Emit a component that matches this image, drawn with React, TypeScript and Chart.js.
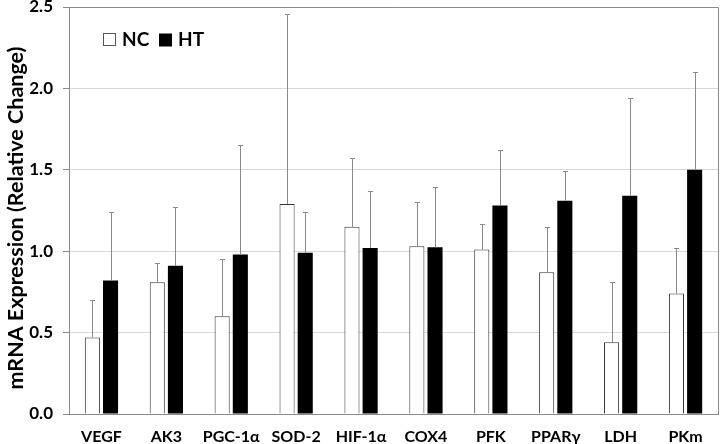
import React, { useEffect, useRef } from "react";
import { Chart, registerables } from "chart.js";

Chart.register(...registerables);

const categories = ["VEGF", "AK3", "PGC-1α", "SOD-2", "HIF-1α", "COX4", "PFK", "PPARγ", "LDH", "PKm"];
const ncMean = [0.47, 0.81, 0.6, 1.29, 1.15, 1.03, 1.01, 0.87, 0.44, 0.74];
const ncErr = [0.23, 0.12, 0.35, 1.17, 0.42, 0.27, 0.16, 0.28, 0.37, 0.28];
const htMean = [0.82, 0.91, 0.98, 0.99, 1.02, 1.025, 1.28, 1.31, 1.34, 1.5];
const htErr = [0.42, 0.36, 0.67, 0.25, 0.35, 0.37, 0.34, 0.18, 0.6, 0.6];
const seriesLabels = ["NC", "HT"];
const yTicks = [0, 0.5, 1.0, 1.5, 2.0, 2.5];
const yTitle = "mRNA Expression (Relative Change)";

const FONT = "Lato, 'Open Sans', sans-serif";

const errorBarPlugin = {
  id: "errorBars",
  afterDatasetsDraw(chart: any) {
    const ctx = chart.ctx;
    const yScale = chart.scales.y;
    const errs = [ncErr, htErr];
    const means = [ncMean, htMean];
    ctx.save();
    ctx.strokeStyle = "#8a8a8a";
    ctx.lineWidth = 1;
    chart.data.datasets.forEach((_: any, di: number) => {
      const meta = chart.getDatasetMeta(di);
      meta.data.forEach((el: any, i: number) => {
        const x = Math.round(el.x) + 0.5;
        const yTop = Math.round(yScale.getPixelForValue(means[di][i] + errs[di][i])) + 0.5;
        const yBase = el.y;
        ctx.beginPath();
        ctx.moveTo(x, yBase);
        ctx.lineTo(x, yTop);
        ctx.moveTo(x - 2.5, yTop);
        ctx.lineTo(x + 2.5, yTop);
        ctx.stroke();
      });
    });
    ctx.restore();
  },
};

const frameLegendPlugin = {
  id: "frameLegend",
  afterDraw(chart: any) {
    const ctx = chart.ctx;
    const a = chart.chartArea;
    ctx.save();
    ctx.strokeStyle = "#8a8a8a";
    ctx.lineWidth = 1;
    ctx.beginPath();
    ctx.moveTo(a.left, Math.round(a.top) + 0.5);
    ctx.lineTo(Math.round(a.right) + 0.5, Math.round(a.top) + 0.5);
    ctx.lineTo(Math.round(a.right) + 0.5, a.bottom);
    ctx.stroke();
    // legend
    const lx = a.left + 34;
    const ly = 33;
    ctx.fillStyle = "#fff";
    ctx.fillRect(lx + 0.5, ly + 0.5, 12, 12);
    ctx.strokeStyle = "#555";
    ctx.strokeRect(lx + 0.5, ly + 0.5, 12, 12);
    ctx.fillStyle = "#000";
    ctx.font = `bold 19px ${FONT}`;
    ctx.textBaseline = "middle";
    ctx.textAlign = "left";
    ctx.fillText(seriesLabels[0], lx + 19, ly + 7);
    const hx = lx + 56;
    ctx.fillRect(hx, ly + 0.5, 13, 13);
    ctx.fillText(seriesLabels[1], hx + 19, ly + 7);
    // y-axis title
    ctx.translate(16, 218);
    ctx.rotate(-Math.PI / 2);
    ctx.font = `bold 21.5px ${FONT}`;
    ctx.textAlign = "center";
    ctx.textBaseline = "middle";
    ctx.fillText(yTitle, 0, 0);
    ctx.restore();
  },
};

export default function App() {
  const ref = useRef<HTMLCanvasElement>(null);
  useEffect(() => {
    if (!ref.current) return;
    const chart = new Chart(ref.current, {
      type: "bar",
      data: {
        labels: categories,
        datasets: [
          {
            label: seriesLabels[0],
            data: ncMean,
            backgroundColor: "#ffffff",
            borderColor: "#333333",
            borderWidth: 1,
            barPercentage: 0.83,
            categoryPercentage: 0.56,
          },
          {
            label: seriesLabels[1],
            data: htMean,
            backgroundColor: "#000000",
            borderColor: "#000000",
            borderWidth: 0,
            barPercentage: 0.83,
            categoryPercentage: 0.56,
          },
        ],
      },
      options: {
        responsive: false,
        animation: false,
        layout: { padding: { top: 7, right: 2, left: 0, bottom: 0 } },
        plugins: {
          legend: { display: false },
          tooltip: { enabled: false },
        },
        scales: {
          x: {
            grid: { display: true, drawOnChartArea: false, drawTicks: false },
            border: { display: true, color: "#8a8a8a", width: 1 },
            ticks: {
              color: "#000",
              font: { family: FONT, size: 16, weight: "bold" },
              padding: 13,
              maxRotation: 0,
              autoSkip: false,
            },
            afterFit: (s: any) => {
              s.height = 30;
              s.paddingLeft = 0;
              s.paddingRight = 0;
            },
          },
          y: {
            min: 0,
            max: 2.5,
            afterBuildTicks: (s: any) => {
              s.ticks = yTicks.map((v) => ({ value: v }));
            },
            grid: { color: "#d9d9d9", tickColor: "#8a8a8a", tickLength: 6 },
            border: { display: true, color: "#8a8a8a", width: 1 },
            ticks: {
              color: "#000",
              font: { family: FONT, size: 17, weight: "bold" },
              padding: 10,
              callback: (v: any) => Number(v).toFixed(1),
            },
            afterFit: (s: any) => {
              s.width = 69;
              s.paddingTop = 0;
              s.paddingBottom = 0;
            },
          },
        },
      },
      plugins: [errorBarPlugin, frameLegendPlugin],
    });
    return () => chart.destroy();
  }, []);
  return (
    <div style={{ position: "fixed", left: 0, top: 0, width: 720, height: 444, background: "#fff" }}>
      <canvas ref={ref} width={720} height={444} />
    </div>
  );
}
